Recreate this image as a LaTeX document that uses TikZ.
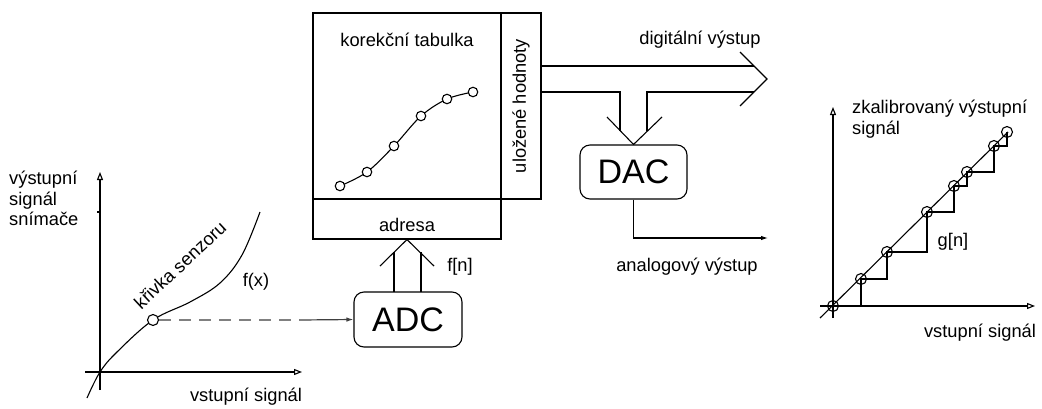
\documentclass[tikz,border=0pt]{standalone}
\usepackage{fontspec}
\setmainfont{Liberation Sans}
\usetikzlibrary{arrows.meta,calc}
\begin{document}
\begin{tikzpicture}[x=1pt,y=-1pt,
  lbl/.style={font=\fontsize{18.3}{20.5}\selectfont, inner sep=0pt},
  big/.style={draw, rounded corners=10pt, font=\fontsize{34}{36}\selectfont, line width=1.1pt},
  pt/.style={circle, draw, inner sep=0pt, minimum size=11pt, line width=1.1pt},
  spt/.style={circle, draw, inner sep=0pt, minimum size=9.5pt, line width=1.1pt},
  axis/.style={line width=1.1pt, -{Triangle[open, length=8pt, width=6pt]}},
  ln/.style={line width=1.1pt},
  boxs/.style={draw, line width=1.1pt, inner sep=0pt}]
\useasboundingbox (0,0) rectangle (1042,408);

% ---------- left graph ----------
\draw[axis] (100,390) -- (100,172);
\draw[axis] (85,372) -- (302,372);
\draw[ln] (97,212) -- (100,212);
\draw[ln] plot[smooth, tension=0.6] coordinates {(87,398) (100,372) (117,352) (153,320) (190,302) (220,283) (242,255) (260,212)};
\node[pt, fill=white] (c1) at (153,320) {};
\node[lbl, rotate=43] (kriv) at (180,265) {křivka senzoru};
\node[lbl] (fx) at (256,282) {f(x)};
\node[lbl, align=left, anchor=north west] (ylab1) at (9,171) {výstupní\\signál\\snímače};
\node[lbl] (xlab1) at (246,397) {vstupní signál};

% ---------- ADC ----------
\node[big, minimum width=108pt, minimum height=55pt, inner sep=0pt] (adc) at (408,319.5) {ADC};
\coordinate (dd) at (300,320);
\draw[gray, line width=1.2pt, dash pattern=on 12pt off 8pt] (c1.east) -- (dd);
\draw[darkgray, line width=1.2pt, -{Latex[length=7pt, width=4.5pt]}] (dd) -- (adc.west);
\node[lbl] (fn) at (460,267) {f[n]};

% ---------- table boxes ----------
\node[boxs, minimum width=188pt, minimum height=186pt] (tab) at (407,106) {};
\node[boxs, minimum width=40pt, minimum height=186pt] (ulo) at (521,106) {};
\node[boxs, minimum width=188pt, minimum height=40pt] (adr) at (407,219) {};
\node[lbl] (tabt) at (407,40) {korekční tabulka};
\node[lbl, rotate=90] (ulot) at (521,106) {uložené hodnoty};
\node[lbl] (adrt) at (407,225) {adresa};
\draw[ln] plot[smooth, tension=0.55] coordinates {(340,186) (367,172) (394,146) (421,116) (447,99) (473,92)};
\foreach \p/\q in {p1/{340,186}, p2/{367,172}, p3/{394,146}, p4/{421,116}, p5/{447,99}, p6/{473,92}}
  \node[spt, fill=white] (\p) at (\q) {};

% ---------- up arrow ADC -> adresa ----------
\draw[ln] (394,292) -- (394,252);
\draw[ln] (421,292) -- (421,252);
\draw[ln] (380,266) -- (adr.south) -- (434,266);

% ---------- bus to digital output and DAC ----------
\node[big, minimum width=107pt, minimum height=54pt, inner sep=0pt] (dac) at (633.5,172) {DAC};
\draw[ln] (541,66) -- (754,66);
\draw[ln] (541,92) -- (620,92) -- (620,131);
\draw[ln] (647,131) -- (647,92) -- (754,92);
\coordinate (dtip) at (767,79);
\draw[ln] (740,52) -- (dtip) -- (740,106);
\draw[ln] (607,117) -- (dac.north) -- (662,117);
\node[lbl] (digt) at (700,40) {digitální výstup};

% ---------- analog output ----------
\coordinate (aout) at (768,238);
\draw[ln, -{Latex[length=7pt, width=4.5pt]}] (dac.south) |- (aout);
\node[lbl] (anat) at (687,267) {analogový výstup};

% ---------- right graph ----------
\draw[axis] (833,318) -- (833,107);
\draw[axis] (820,306) -- (1035,306);
\draw[ln] (820,318) -- (1008,132);
\draw[ln] (861,306) -- (861,279) -- (887,279) -- (887,252) -- (927,252) -- (927,212)
  -- (954,212) -- (954,186) -- (967,186) -- (967,172) -- (994,172) -- (994,146)
  -- (1007,146) -- (1007,132);
\foreach \p/\q in {q0/{833,306}, q1/{861,279}, q2/{887,252}, q3/{927,212}, q4/{954,186}, q5/{967,172}, q6/{994,146}, q7/{1007,132}}
  \node[pt] (\p) at (\q) {};
\node[lbl, align=left, anchor=north west] (ylab2) at (852,100) {zkalibrovaný výstupní\\signál};
\node[lbl] (gn) at (953,242) {g[n]};
\node[lbl] (xlab2) at (980,333) {vstupní signál};
\end{tikzpicture}
\end{document}
